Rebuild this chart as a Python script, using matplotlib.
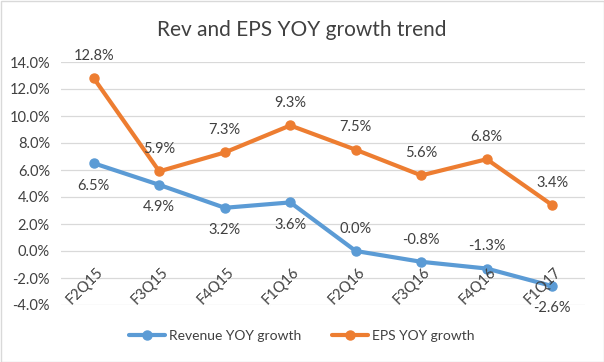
import matplotlib
matplotlib.use("Agg")
import matplotlib.pyplot as plt
from matplotlib.transforms import offset_copy

plt.rcParams['font.family'] = ['Lato', 'DejaVu Sans']

categories = ["F2Q15", "F3Q15", "F4Q15", "F1Q16", "F2Q16", "F3Q16", "F4Q16", "F1Q17"]
revenue = [6.5, 4.9, 3.2, 3.6, 0.0, -0.8, -1.3, -2.6]
eps = [12.8, 5.9, 7.3, 9.3, 7.5, 5.6, 6.8, 3.4]
yticks = [-4, -2, 0, 2, 4, 6, 8, 10, 12, 14]
rev_label_pos = ["below", "below", "below", "below", "above", "above", "above", "below"]

blue = "#5B9BD5"
orange = "#ED7D31"
txt = "#404040"

W, H = 604, 362
fig = plt.figure(figsize=(W / 100, H / 100), dpi=100)
fig.patch.set_facecolor("white")
ax = fig.add_axes([61 / W, 1 - 305 / H, (585 - 61) / W, (305 - 62) / H])

x = list(range(len(categories)))
ax.plot(x, revenue, color=blue, lw=3, marker="o", ms=6.5, label="Revenue YOY growth",
        solid_capstyle="round", zorder=3)
ax.plot(x, eps, color=orange, lw=3, marker="o", ms=6.5, label="EPS YOY growth",
        solid_capstyle="round", zorder=3)

ax.set_xlim(-0.5, len(categories) - 0.5)
ax.set_ylim(-4, 14)
ax.set_yticks(yticks)
ax.set_yticklabels([f"{v:.1f}%" for v in yticks], fontsize=10.5, color=txt)
ax.grid(axis="y", color="#D9D9D9", lw=0.9)
ax.set_axisbelow(True)
for s in ax.spines.values():
    s.set_visible(False)
ax.tick_params(axis="y", length=0, pad=8)
ax.set_xticks([])

# category labels next to the axis at 0
for xi, c in zip(x, categories):
    tr = offset_copy(ax.transData, fig=fig, x=1.5, y=-10, units="points")
    ax.text(xi, 0, c, rotation=45, rotation_mode="anchor", ha="right", va="top",
            fontsize=10.5, color=txt, transform=tr)

for xi, v in zip(x, eps):
    ax.annotate(f"{v:.1f}%", (xi, v), xytext=(0, 11), textcoords="offset points",
                ha="center", va="bottom", fontsize=10.5, color=txt)
for xi, v, p in zip(x, revenue, rev_label_pos):
    if p == "above":
        ax.annotate(f"{v:.1f}%", (xi, v), xytext=(0, 11), textcoords="offset points",
                    ha="center", va="bottom", fontsize=10.5, color=txt)
    else:
        ax.annotate(f"{v:.1f}%", (xi, v), xytext=(0, -11), textcoords="offset points",
                    ha="center", va="top", fontsize=10.5, color=txt)

fig.text(0.5, 1 - 30 / H, "Rev and EPS YOY growth trend", ha="center", va="center",
         fontsize=15, color=txt)

leg = fig.legend(loc="center", bbox_to_anchor=(0.5, 1 - 336 / H), ncol=2, frameon=False,
                 fontsize=10, handlelength=2.6, columnspacing=2.2, handletextpad=0.3)
for t in leg.get_texts():
    t.set_color(txt)

fig.patches.append(plt.Rectangle((0.5 / W, 0.5 / H), 1 - 1 / W, 1 - 1 / H, transform=fig.transFigure,
                                 fill=False, edgecolor="#D9D9D9", lw=1))

fig.savefig("out.png", dpi=100)
